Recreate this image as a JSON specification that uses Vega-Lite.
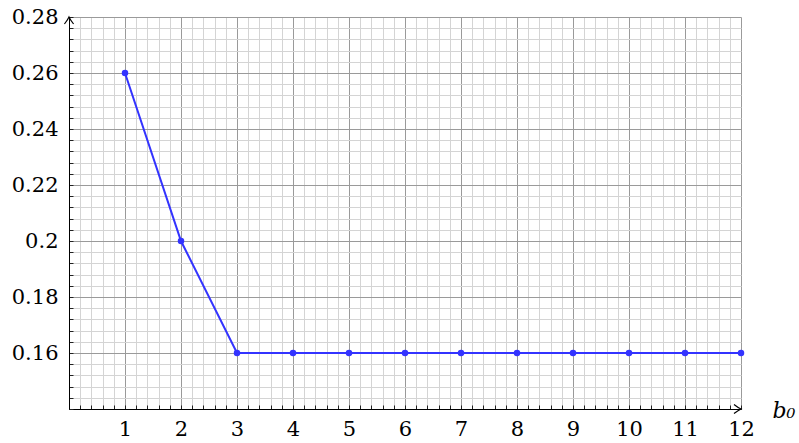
{
  "$schema": "https://vega.github.io/schema/vega-lite/v6.json",
  "autosize": {"type": "none"},
  "padding": {"left": 69, "top": 17, "right": 58, "bottom": 34},
  "width": 672,
  "height": 392,
  "background": "white",
  "config": {
    "view": {"stroke": null},
    "font": "DejaVu Serif"
  },
  "data": {
    "values": [
      {"x": 1, "y": 0.26},
      {"x": 2, "y": 0.2},
      {"x": 3, "y": 0.16},
      {"x": 4, "y": 0.16},
      {"x": 5, "y": 0.16},
      {"x": 6, "y": 0.16},
      {"x": 7, "y": 0.16},
      {"x": 8, "y": 0.16},
      {"x": 9, "y": 0.16},
      {"x": 10, "y": 0.16},
      {"x": 11, "y": 0.16},
      {"x": 12, "y": 0.16}
    ]
  },
  "encoding": {
    "x": {
      "field": "x",
      "type": "quantitative",
      "scale": {"domain": [0, 12], "nice": false, "zero": false},
      "axis": {
        "values": [0,0.2,0.4,0.6,0.8,1,1.2,1.4,1.6,1.8,2,2.2,2.4,2.6,2.8,3,3.2,3.4,3.6,3.8,4,4.2,4.4,4.6,4.8,5,5.2,5.4,5.6,5.8,6,6.2,6.4,6.6,6.8,7,7.2,7.4,7.6,7.8,8,8.2,8.4,8.6,8.8,9,9.2,9.4,9.6,9.8,10,10.2,10.4,10.6,10.8,11,11.2,11.4,11.6,11.8,12],
        "grid": true,
        "gridColor": {"condition": {"test": "abs(datum.value - round(datum.value)) < 1e-6", "value": "#9a9a9a"}, "value": "#d4d4d4"},
        "gridWidth": 1,
        "domainColor": "black",
        "domainWidth": 1,
        "tickColor": "#222222",
        "tickSize": -4,
        "tickWidth": 1,
        "labelExpr": "abs(datum.value - round(datum.value)) < 1e-6 && datum.value > 0 ? format(datum.value, 'd') : ''",
        "labelFont": "DejaVu Serif",
        "labelFontSize": 21,
        "labelColor": "black",
        "labelPadding": 13,
        "labelFlush": false,
        "labelOverlap": false,
        "title": "b₀",
        "titleFont": "DejaVu Serif",
        "titleFontSize": 22,
        "titleFontStyle": "italic",
        "titleFontWeight": "normal",
        "titleColor": "black",
        "titleX": 703,
        "titleY": 8,
        "titleAlign": "left",
        "titleBaseline": "alphabetic",
        "titleAnchor": null
      }
    },
    "y": {
      "field": "y",
      "type": "quantitative",
      "scale": {"domain": [0.14, 0.28], "nice": false, "zero": false},
      "axis": {
        "values": [0.14,0.144,0.148,0.152,0.156,0.16,0.164,0.168,0.172,0.176,0.18,0.184,0.188,0.192,0.196,0.2,0.204,0.208,0.212,0.216,0.22,0.224,0.228,0.232,0.236,0.24,0.244,0.248,0.252,0.256,0.26,0.264,0.268,0.272,0.276,0.28],
        "grid": true,
        "gridColor": {"condition": {"test": "abs(datum.value * 50 - round(datum.value * 50)) < 1e-6", "value": "#9a9a9a"}, "value": "#d4d4d4"},
        "gridWidth": 1,
        "domainColor": "black",
        "domainWidth": 1,
        "tickColor": "#222222",
        "tickSize": -4,
        "tickWidth": 1,
        "labelExpr": "abs(datum.value * 50 - round(datum.value * 50)) < 1e-6 && datum.value > 0.15 ? format(datum.value, '.2~f') : ''",
        "labelFont": "DejaVu Serif",
        "labelFontSize": 21,
        "labelColor": "black",
        "labelPadding": 15,
        "labelFlush": false,
        "labelOverlap": false,
        "title": null
      }
    }
  },
  "layer": [
    {
      "mark": {"type": "line", "color": "#3333ff", "strokeWidth": 2}
    },
    {
      "mark": {"type": "point", "filled": true, "color": "#3333ff", "size": 42, "opacity": 1, "shape": "circle"}
    },
    {
      "data": {"values": [{"x": 12, "y": 0.14}]},
      "mark": {"type": "point", "filled": false, "stroke": "black", "strokeWidth": 1.2, "opacity": 1, "size": 196, "shape": "M-1,-0.65 Q-0.35,-0.15 0,0 Q-0.35,0.15 -1,0.65"}
    },
    {
      "data": {"values": [{"x": 0, "y": 0.28}]},
      "mark": {"type": "point", "filled": false, "stroke": "black", "strokeWidth": 1.2, "opacity": 1, "size": 196, "shape": "M-0.65,1 Q-0.15,0.35 0,0 Q0.15,0.35 0.65,1"}
    }
  ]
}
